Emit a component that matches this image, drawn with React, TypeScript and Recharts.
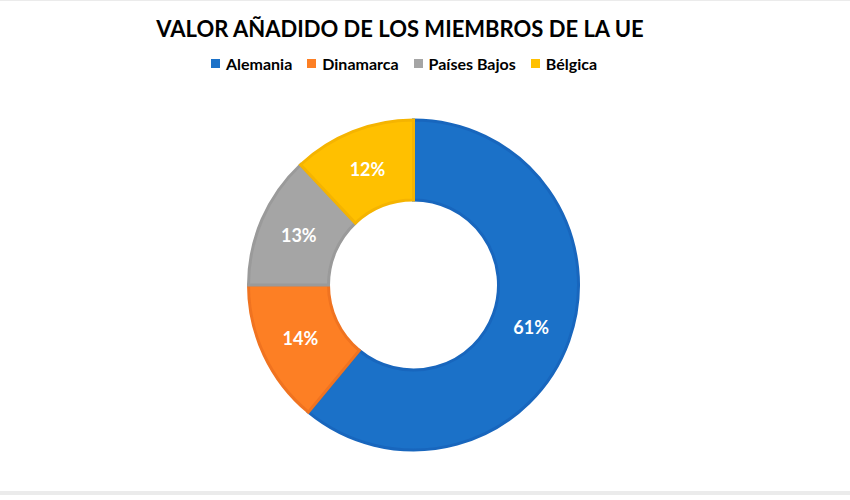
import React from "react";
import { PieChart, Pie, Cell } from "recharts";

const countries = ["Alemania", "Dinamarca", "Países Bajos", "Bélgica"];
const shares = [61, 14, 13, 12];
const fills = ["#1b71c8", "#fd7f24", "#a5a5a5", "#ffc000"];
const strokes = ["#1866bd", "#f07320", "#9a9a9a", "#f5b400"];
const title = "VALOR AÑADIDO DE LOS MIEMBROS DE LA UE";

const data = countries.map((name, i) => ({ name, value: shares[i] }));

const RAD = Math.PI / 180;
const renderLabel = (p: any) => {
  const r = (p.innerRadius + p.outerRadius) / 2;
  const x = p.cx + r * Math.cos(-p.midAngle * RAD);
  const y = p.cy + r * Math.sin(-p.midAngle * RAD);
  return (
    <text
      x={x}
      y={y}
      fill="#ffffff"
      textAnchor="middle"
      dominantBaseline="central"
      fontFamily="Lato"
      fontWeight={700}
      fontSize={18}
    >
      {`${p.value}%`}
    </text>
  );
};

export default function App() {
  return (
    <div style={{ position: "absolute", left: 0, top: 0, width: 850, height: 500, background: "#fff", overflow: "hidden" }}>
      <div style={{ position: "absolute", left: 0, top: 0, width: 850, height: 1, background: "#ebebeb" }} />
      <div
        style={{
          position: "absolute",
          left: 0,
          top: 15,
          width: 800,
          textAlign: "center",
          fontFamily: "Lato",
          fontWeight: 700,
          fontSize: 22,
          color: "#000",
        }}
      >
        {title}
      </div>
      <div
        style={{
          position: "absolute",
          left: 4,
          top: 54,
          width: 800,
          display: "flex",
          justifyContent: "center",
          fontFamily: "Lato",
          fontWeight: 700,
          fontSize: 16,
          color: "#000",
        }}
      >
        {countries.map((c, i) => (
          <div key={c} style={{ display: "flex", alignItems: "center", marginRight: i < countries.length - 1 ? 15 : 0 }}>
            <span style={{ width: 9, height: 9, background: fills[i], display: "inline-block", marginRight: 6 }} />
            <span>{c}</span>
          </div>
        ))}
      </div>
      <div style={{ position: "absolute", left: 0, top: 0 }}>
        <PieChart width={830} height={480} margin={{ top: 0, right: 0, bottom: 0, left: 0 }} style={{ outline: "none" }}>
          <Pie
            data={data}
            dataKey="value"
            nameKey="name"
            cx={413.5}
            cy={285}
            innerRadius={85}
            outerRadius={165}
            startAngle={90}
            endAngle={-270}
            label={renderLabel}
            labelLine={false}
            isAnimationActive={false}
          >
            {data.map((d, i) => (
              <Cell key={d.name} fill={fills[i]} stroke={strokes[i]} strokeWidth={3} />
            ))}
          </Pie>
        </PieChart>
      </div>
      <div style={{ position: "absolute", left: 0, top: 491, width: 850, height: 4, background: "#ebebeb" }} />
    </div>
  );
}
